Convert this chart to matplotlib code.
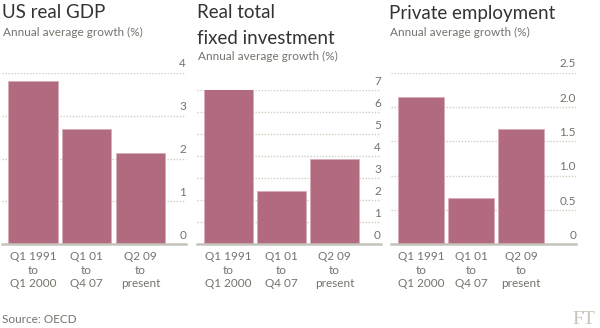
import matplotlib
matplotlib.use("Agg")
import matplotlib.pyplot as plt
from matplotlib.transforms import offset_copy

plt.rcParams['font.family'] = ['Lato', 'DejaVu Sans']

categories = ["Q1 1991\nto\nQ1 2000", "Q1 01\nto\nQ4 07", "Q2 09\nto\npresent"]

gdp_values = [3.80, 2.70, 2.13]
inv_values = [7.05, 2.42, 3.86]
emp_values = [2.14, 0.68, 1.675]

gdp_ticks = [0, 1, 2, 3, 4]
inv_ticks = [0, 1, 2, 3, 4, 5, 6, 7]
emp_ticks = [0, 0.5, 1.0, 1.5, 2.0, 2.5]
gdp_ticklabels = ["0", "1", "2", "3", "4"]
inv_ticklabels = ["0", "1", "2", "3", "4", "5", "6", "7"]
emp_ticklabels = ["0", "0.5", "1.0", "1.5", "2.0", "2.5"]

titles = [["US real GDP"], ["Real total", "fixed investment"], ["Private employment"]]
subtitle = "Annual average growth (%)"
source = "Source: OECD"

BAR = "#b26b7e"
GRID = "#d3cdc1"
BASE = "#c4c2ba"
TXT = "#333333"
SUB = "#74736c"

W, H = 600, 328
fig = plt.figure(figsize=(6, 3.28), dpi=100)
fig.patch.set_facecolor("white")

def px_axes(x0, x1, ytop, ybase):
    return fig.add_axes([x0 / W, (H - ybase) / H, (x1 - x0) / W, (ybase - ytop) / H])

panels = [
    dict(vals=gdp_values, ticks=gdp_ticks, tl=gdp_ticklabels, box=(2, 186, 72.7, 244.4),
         xlim=(-0.577, 2.85), width=0.92, title=titles[0], tx=2, sub_y=36.5),
    dict(vals=inv_values, ticks=inv_ticks, tl=inv_ticklabels, box=(197, 381, 90.0, 244.4),
         xlim=(-0.59, 2.88), width=0.92, title=titles[1], tx=197, sub_y=59.5),
    dict(vals=emp_values, ticks=emp_ticks, tl=emp_ticklabels, box=(391, 576, 72.7, 244.4),
         xlim=(-0.6, 3.1), width=0.91, title=titles[2], tx=389, sub_y=36.5),
]

for p in panels:
    x0, x1, yt, yb = p["box"]
    ax = px_axes(x0, x1, yt, yb)
    ax.set_xlim(*p["xlim"])
    ax.set_ylim(0, max(p["ticks"]))
    for t in p["ticks"][1:]:
        ax.axhline(t, color=GRID, lw=1.0, ls=(0, (1, 1.2)), zorder=0)
    ax.bar(range(len(p["vals"])), p["vals"], width=p["width"], color=BAR,
           edgecolor="#d9a9b6", linewidth=0.5, zorder=2)
    ax.axhline(0, color=BASE, lw=1.8, zorder=3, clip_on=False)
    for s in ax.spines.values():
        s.set_visible(False)
    ax.set_yticks([])
    ax.set_xticks(range(len(categories)))
    ax.set_xticklabels(categories, fontsize=8.5, color=SUB, linespacing=1.25)
    ax.tick_params(axis="x", length=0, pad=5)
    trans = offset_copy(ax.get_yaxis_transform(), fig=fig, x=0, y=2.5, units="points")
    for t, lab in zip(p["ticks"], p["tl"]):
        ax.text(1.0, t, lab, transform=trans, ha="right", va="bottom",
                fontsize=8.5, color=SUB, clip_on=False)
    for i, line in enumerate(p["title"]):
        fig.text(p["tx"] / W, 1 - (18.5 + 25 * i) / H, line, fontsize=13.5, color=TXT,
                 ha="left", va="baseline")
    fig.text((p["tx"] + 1) / W, 1 - p["sub_y"] / H, subtitle, fontsize=8.5, color=SUB,
             ha="left", va="baseline")

fig.text(2 / W, 1 - 323 / H, source, fontsize=8.5, color=SUB, ha="left", va="baseline")
fig.text(595 / W, 1 - 324 / H, "FT", fontsize=14, color="#c9c4ba", ha="right",
         va="baseline", family=["Liberation Serif", "DejaVu Serif"])

fig.savefig("out.png", dpi=100, facecolor="white")
